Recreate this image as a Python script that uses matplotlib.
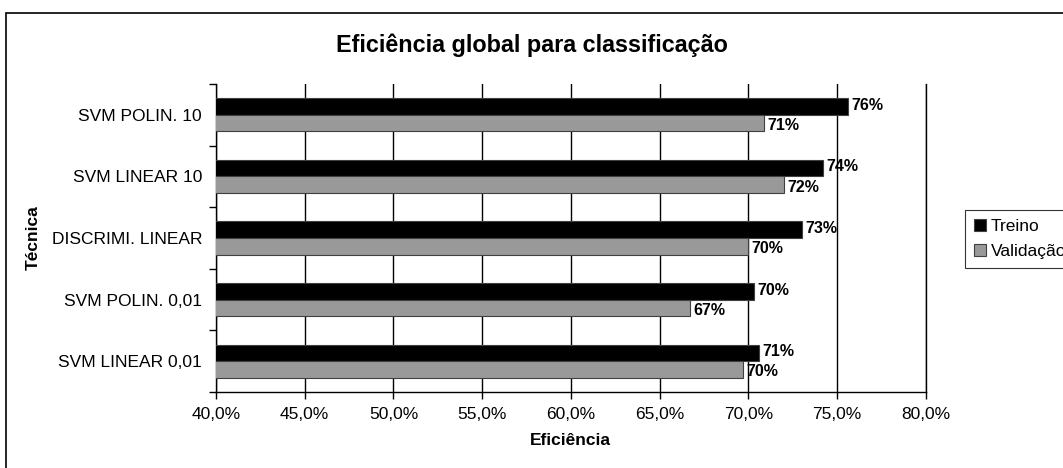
import matplotlib
matplotlib.use("Agg")
import matplotlib.pyplot as plt
from matplotlib.patches import Rectangle
import numpy as np

plt.rcParams['font.family'] = ['Liberation Sans', 'DejaVu Sans']

categories = ["SVM LINEAR 0,01", "SVM POLIN. 0,01", "DISCRIMI. LINEAR",
              "SVM LINEAR 10", "SVM POLIN. 10"]
treino = [70.6, 70.3, 73.0, 74.2, 75.6]
validacao = [69.7, 66.7, 70.0, 72.0, 70.9]
treino_labels = ["71%", "70%", "73%", "74%", "76%"]
validacao_labels = ["70%", "67%", "70%", "72%", "71%"]
xticks = [40, 45, 50, 55, 60, 65, 70, 75, 80]

fig = plt.figure(figsize=(10.63, 4.68), dpi=100)
fig.patch.set_facecolor("white")
# outer frame
fig.patches.append(Rectangle((6/1063, -0.05), 1.2, 1 - 13/468 + 0.05,
                             transform=fig.transFigure, fill=False,
                             edgecolor="black", linewidth=1.2, zorder=0))

ax = fig.add_axes([216/1063, 1 - 392/468, (925.7 - 216)/1063, (392 - 84)/468])
y = np.arange(len(categories))
h = 0.27
ax.barh(y + h/2, treino, height=h, color="black", edgecolor="#404040",
        linewidth=0.8, label="Treino", zorder=3)
ax.barh(y - h/2, validacao, height=h, color="#999999", edgecolor="#404040",
        linewidth=0.8, label="Validação", zorder=3)

for yi, v, t in zip(y, treino, treino_labels):
    ax.text(v + 0.2, yi + h/2 + 0.02, t, va="center", ha="left",
            fontsize=11.5, fontweight="bold", zorder=4)
for yi, v, t in zip(y, validacao, validacao_labels):
    ax.text(v + 0.2, yi - h/2 - 0.04, t, va="center", ha="left",
            fontsize=11.5, fontweight="bold", zorder=4)

ax.set_xlim(40, 80)
ax.set_ylim(-0.5, len(categories) - 0.5)
ax.set_xticks(xticks)
ax.set_xticklabels([f"{v:.1f}%".replace(".", ",") for v in xticks], fontsize=12.5)
ax.set_yticks(y)
ax.set_yticklabels(categories, fontsize=12.5)
ax.set_yticks(np.arange(-0.5, len(categories)), minor=True)
ax.tick_params(axis="y", which="major", length=0, pad=10)
ax.tick_params(axis="y", which="minor", length=5, width=1)
ax.tick_params(axis="x", which="major", length=5, width=1, direction="out", pad=6)
ax.xaxis.grid(True, color="black", linewidth=1, zorder=0)
ax.set_axisbelow(True)
ax.spines["top"].set_visible(False)
ax.spines["right"].set_linewidth(1)
ax.spines["left"].set_linewidth(1)
ax.spines["bottom"].set_linewidth(1)

ax.set_xlabel("Eficiência", fontsize=12.5, fontweight="bold", labelpad=8)
ax.set_ylabel("Técnica", fontsize=12.5, fontweight="bold", labelpad=8)

fig.text(0.5, 1 - 45/468, "Eficiência global para classificação",
         ha="center", va="center", fontsize=16.8, fontweight="bold")

handles, labels = ax.get_legend_handles_labels()
leg = fig.legend(handles, labels, loc="upper left",
                 bbox_to_anchor=(965/1063, 1 - 210/468), frameon=True,
                 fontsize=12.5, handlelength=0.7, handleheight=0.7,
                 handletextpad=0.3, borderpad=0.5, labelspacing=0.6,
                 fancybox=False, edgecolor="black", borderaxespad=0)
leg.get_frame().set_linewidth(0.8)

fig.savefig("out.png", dpi=100, facecolor="white")
